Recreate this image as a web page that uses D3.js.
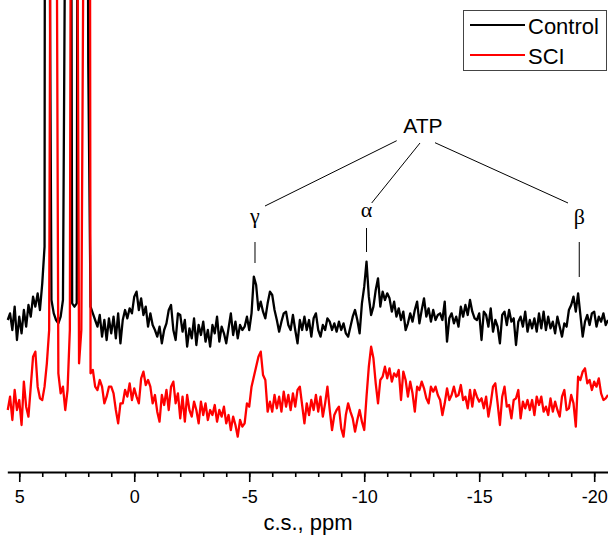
<!DOCTYPE html>
<html><head><meta charset="utf-8">
<script src="https://cdn.jsdelivr.net/npm/d3@7"></script>
<style>html,body{margin:0;padding:0;background:#fff;}svg{display:block;}</style>
</head><body>
<svg id="chart" width="608" height="543"></svg>
<script>
// chemical shift grid (ppm), uniform sampling from 5.5 down to -20.6
const ppmStart = 5.5;
const ppmStep = 0.1;
// Control spectrum (a.u.), one value per 0.1 ppm starting at 5.5 ppm
const controlValues = [
  730, 750, 700, 770, 670, 740, 690, 760, 710, 775,
  740, 800, 770, 810, 760, 840, 950, 9000, 2200, 790,
  750, 730, 720, 740, 790, 2000, 6000, 4000, 780, 770,
  780, 5000, 3000, 6000, 4000, 1500, 770, 750, 730, 710,
  745, 680, 730, 670, 735, 690, 740, 675, 750, 660,
  730, 760, 735, 765, 750, 800, 815, 760, 795, 745,
  770, 710, 750, 715, 700, 680, 710, 660, 700, 720,
  760, 775, 700, 670, 750, 745, 695, 730, 650, 705,
  675, 735, 655, 715, 685, 725, 665, 700, 650, 715,
  690, 740, 665, 710, 690, 660, 705, 750, 685, 725,
  675, 715, 700,
  710, 740, 700, 750, 860, 835, 760, 785, 755, 735,
  780, 815, 805, 760, 730, 695, 725, 750, 755, 715,
  700, 745, 700, 660, 730, 700, 740, 700, 730, 680,
  735, 750, 700, 680, 715, 700, 735, 725, 700, 720,
  695, 725, 700, 720, 690, 680, 710, 740, 760, 730,
  690, 780, 830, 905, 800, 745, 770, 820, 855, 770,
  815, 790, 810, 795, 755, 785, 740, 765, 730, 755,
  700, 720, 750, 725, 760, 785, 720, 760, 795, 740,
  765, 725, 760, 730, 745, 750, 730, 785, 665, 735,
  750, 720, 740, 710, 770, 740, 775, 745, 790, 755,
  735, 730, 750, 670, 755, 745, 710, 765, 695, 730,
  710, 660, 745, 755, 715, 760, 725, 735, 655, 725,
  740, 710, 755, 695, 730, 705, 735, 695, 750, 705,
  755, 700, 740, 705, 725, 690, 740, 710, 680, 720,
  710, 760, 775, 800, 755, 810, 745, 680, 725, 745,
  715, 750, 755, 710, 740, 725, 750, 715, 730
];
// SCI spectrum (a.u.), same grid
const sciValues = [
  460, 500, 430, 520, 460, 490, 415, 545, 470, 440,
  530, 620, 635, 530, 495, 490, 530, 600, 700, 3000,
  8000, 2500, 570, 510, 530, 460, 520, 700, 4000, 6000,
  2500, 600, 700, 2000, 5000, 6000, 570, 580, 530, 520,
  550, 530, 480, 500, 530, 530, 510, 460, 420, 480,
  480, 520, 500, 540, 490, 525, 500, 480, 555, 575,
  535, 550, 530, 480, 505, 455, 425, 505, 475, 520,
  460, 530, 545, 480, 510, 435, 500, 425, 505, 460,
  440, 485, 460, 420, 485, 445, 480, 430, 460, 445,
  475, 425, 460, 440, 470, 420, 445, 400, 440, 415,
  380, 430, 410,
  420, 480, 470, 530, 560, 590, 620, 635, 565, 550,
  455, 485, 455, 505, 465, 500, 455, 515, 470, 505,
  460, 510, 470, 520, 530, 475, 420, 480, 445, 490,
  460, 505, 455, 500, 440, 480, 530, 460, 400, 445,
  460, 470, 405, 380, 445, 480, 455, 435, 395, 430,
  460, 425, 400, 500, 590, 650, 615, 540, 480, 550,
  560, 590, 555, 585, 545, 570, 560, 580, 490, 575,
  550, 500, 545, 510, 455, 530, 520, 545, 525, 495,
  480, 530, 515, 530, 505, 490, 445, 480, 525, 490,
  505, 530, 500, 505, 535, 490, 500, 465, 520, 470,
  520, 500, 485, 495, 465, 500, 440, 480, 530, 540,
  480, 415, 500, 530, 470, 475, 435, 490, 495, 520,
  435, 485, 465, 490, 460, 490, 445, 500, 475, 500,
  455, 470, 445, 495, 455, 485, 460, 440, 500, 520,
  460, 465, 505, 480, 410, 560, 550, 575, 585, 540,
  550, 520, 545, 530, 555, 510, 490, 495, 505
];
const seriesNames = ["Control", "SCI"];
const seriesColors = ["#000000", "#ff0000"];
const majorTicks = [5, 0, -5, -10, -15, -20];
const minorTicks = d3.range(5, -21, -1);
const xLabel = "c.s., ppm";
const peakLabels = [
  {label: "γ", ppm: -5.25},
  {label: "α", ppm: -10.1},
  {label: "β", ppm: -19.35}
];
const groupLabel = "ATP";

const svg = d3.select("#chart");
const axisY = 472;
const x = d3.scaleLinear().domain([5.52, -20.6]).range([7.3, 608]);
const y = d3.scaleLinear().domain([274, 1690]).range([axisY, 0]);

const ppm = controlValues.map((_, i) => +(ppmStart - i * ppmStep).toFixed(1));
const series = [
  {name: seriesNames[0], color: seriesColors[0], pts: controlValues.map((v, i) => [ppm[i], v])},
  {name: seriesNames[1], color: seriesColors[1], pts: sciValues.map((v, i) => [ppm[i], v])}
];

svg.append("defs").append("clipPath").attr("id", "clip")
  .append("rect").attr("x", 0).attr("y", 0).attr("width", 608).attr("height", axisY);

const line = d3.line().x(d => x(d[0])).y(d => y(d[1]));
const plot = svg.append("g").attr("clip-path", "url(#clip)");
series.forEach(s => {
  plot.append("path").attr("d", line(s.pts))
    .attr("fill", "none").attr("stroke", s.color)
    .attr("stroke-width", 2.3).attr("stroke-linejoin", "round");
});

// minor ticks
const minorAxis = d3.axisBottom(x).tickValues(minorTicks).tickSize(5).tickSizeOuter(0).tickFormat("");
const gMinor = svg.append("g").attr("transform", `translate(0,${axisY})`).call(minorAxis);
gMinor.select(".domain").remove();
gMinor.selectAll("line").attr("stroke", "#000").attr("stroke-width", 1.6);

// major axis
const majorAxis = d3.axisBottom(x).tickValues(majorTicks).tickSize(10).tickSizeOuter(0).tickPadding(8).tickFormat(d => d);
const gMajor = svg.append("g").attr("transform", `translate(0,${axisY})`).call(majorAxis);
gMajor.select(".domain").attr("stroke", "#000").attr("stroke-width", 2);
gMajor.selectAll("line").attr("stroke", "#000").attr("stroke-width", 1.6);
gMajor.selectAll("text").attr("font-family", "'Liberation Sans', Arial, sans-serif")
  .attr("font-size", 18).attr("fill", "#000");

svg.append("text").attr("x", 308).attr("y", 530).attr("text-anchor", "middle")
  .attr("font-family", "'Liberation Sans', Arial, sans-serif").attr("font-size", 22).text(xLabel);

// annotations
const ann = svg.append("g").attr("stroke", "#000").attr("stroke-width", 1);
svg.append("text").attr("x", 423).attr("y", 133).attr("text-anchor", "middle")
  .attr("font-family", "'Liberation Sans', Arial, sans-serif").attr("font-size", 21).text(groupLabel);
const labelY = [223, 217, 224];
const tickTop = [242, 228, 242];
const tickBot = [263, 252, 277];
const fanEnd = [[265, 206], [371.7, 203], [568, 203]];
const fanStart = [[396.7, 140.7], [420, 143], [435, 142.7]];
peakLabels.forEach((p, i) => {
  const px = x(p.ppm);
  svg.append("text").attr("x", px).attr("y", labelY[i]).attr("text-anchor", "middle")
    .style("font-family", "'Liberation Serif', 'DejaVu Serif', serif").attr("font-size", 22).text(p.label);
  ann.append("line").attr("x1", px).attr("x2", px).attr("y1", tickTop[i]).attr("y2", tickBot[i]);
  ann.append("line").attr("x1", fanStart[i][0]).attr("y1", fanStart[i][1])
    .attr("x2", fanEnd[i][0]).attr("y2", fanEnd[i][1]);
});

// legend
const lg = svg.append("g");
lg.append("rect").attr("x", 463.5).attr("y", 10.5).attr("width", 143).attr("height", 60)
  .attr("fill", "#fff").attr("stroke", "#444").attr("stroke-width", 1);
series.forEach((s, i) => {
  const ly = 25 + i * 30;
  lg.append("line").attr("x1", 470).attr("x2", 525).attr("y1", ly).attr("y2", ly)
    .attr("stroke", s.color).attr("stroke-width", 2);
  lg.append("text").attr("x", 528).attr("y", ly + 8.5)
    .attr("font-family", "'Liberation Sans', Arial, sans-serif").attr("font-size", 22).text(s.name);
});
</script>
</body></html>
